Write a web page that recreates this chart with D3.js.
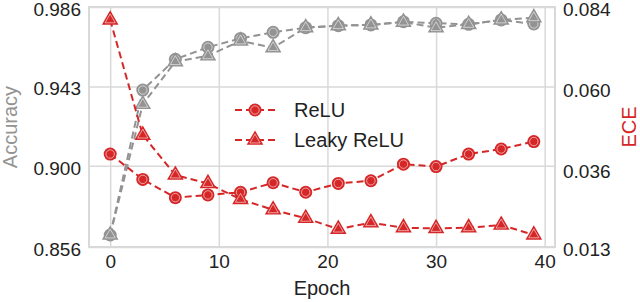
<!DOCTYPE html>
<html>
<head>
<meta charset="utf-8">
<script src="https://cdn.jsdelivr.net/npm/d3@7/dist/d3.min.js"></script>
<style>
  body { margin: 0; background: #fff; }
  text { font-family: "Liberation Sans", Arial, sans-serif; }
</style>
</head>
<body>
<script>
var epochs = [0, 3, 6, 9, 12, 15, 18, 21, 24, 27, 30, 33, 36, 39];
var accRelu  = [0.8625, 0.9410, 0.9577, 0.9642, 0.9690, 0.9723, 0.9748, 0.9759, 0.9763, 0.9780, 0.9772, 0.9766, 0.9790, 0.9768];
var accLeaky = [0.8625, 0.9333, 0.9564, 0.9596, 0.9676, 0.9640, 0.9748, 0.9759, 0.9763, 0.9778, 0.9748, 0.9766, 0.9790, 0.9802];
var eceRelu  = [0.0405, 0.0330, 0.0276, 0.0284, 0.0292, 0.0320, 0.0292, 0.0318, 0.0326, 0.0375, 0.0368, 0.0405, 0.0420, 0.0442];
var eceLeaky = [0.0802, 0.0461, 0.0343, 0.0318, 0.0271, 0.0240, 0.0215, 0.0183, 0.0202, 0.0187, 0.0185, 0.0187, 0.0195, 0.0166];
var xTicks = [0, 10, 20, 30, 40];
var accTicks = [0.856, 0.900, 0.943, 0.986];
var eceTicks = [0.013, 0.036, 0.060, 0.084];
var seriesNames = ["ReLU", "Leaky ReLU"];

var red = "#d62728", grey = "#939393", gridc = "#d9d9d9";

var svg = d3.select("body").append("svg")
    .attr("width", 640).attr("height", 302)
    .style("display", "block");

var margin = {top: 7, right: 85, bottom: 55, left: 89};
var width = 640 - margin.left - margin.right;
var height = 302 - margin.top - margin.bottom;
var g = svg.append("g").attr("transform", "translate(" + margin.left + "," + margin.top + ")");

var x = d3.scaleLinear().domain([-1.95, 40.95]).range([0, width]);
var yAcc = d3.scaleLinear().domain([0.856, 0.986]).range([height, 0]);
var yEce = d3.scaleLinear().domain([0.013, 0.084]).range([height, 0]);

// grid
g.append("g")
    .attr("transform", "translate(0," + height + ")")
    .call(d3.axisBottom(x).tickValues(xTicks).tickSize(-height).tickFormat(""))
    .call(function(a) { a.select(".domain").remove(); })
    .selectAll("line").attr("stroke", gridc).attr("stroke-width", 1.5);
g.append("g")
    .call(d3.axisLeft(yAcc).tickValues(accTicks).tickSize(-width).tickFormat(""))
    .call(function(a) { a.select(".domain").remove(); })
    .selectAll("line").attr("stroke", gridc).attr("stroke-width", 1.5);

// tick labels
var xa = g.append("g")
    .attr("transform", "translate(0," + height + ")")
    .call(d3.axisBottom(x).tickValues(xTicks).tickSize(0).tickPadding(8));
xa.select(".domain").remove();
xa.selectAll("text").style("font-size", "19px").attr("fill", "#222");

var ya = g.append("g")
    .call(d3.axisLeft(yAcc).tickValues(accTicks).tickSize(0).tickPadding(8).tickFormat(d3.format(".3f")));
ya.select(".domain").remove();
ya.selectAll("text").style("font-size", "19px").attr("fill", "#222").attr("dy", "0.45em");

var yb = g.append("g")
    .attr("transform", "translate(" + width + ",0)")
    .call(d3.axisRight(yEce).tickValues(eceTicks).tickSize(0).tickPadding(8).tickFormat(d3.format(".3f")));
yb.select(".domain").remove();
yb.selectAll("text").style("font-size", "19px").attr("fill", "#222").attr("dy", "0.45em");

// frame
g.append("rect")
    .attr("width", width).attr("height", height)
    .attr("fill", "none").attr("stroke", gridc).attr("stroke-width", 2);

function drawMarker(sel, shape, color) {
  if (shape === "circle") {
    sel.append("circle").attr("r", 6.5).attr("fill", color);
    sel.append("circle").attr("r", 4.2).attr("fill", "none")
        .attr("stroke", "rgba(255,255,255,0.55)").attr("stroke-width", 1);
  } else {
    sel.append("path").attr("d", d3.symbol(d3.symbolTriangle, 120)()).attr("fill", color);
    sel.append("path").attr("d", d3.symbol(d3.symbolTriangle, 45)()).attr("fill", "none")
        .attr("stroke", "rgba(255,255,255,0.55)").attr("stroke-width", 1);
  }
}

function drawSeries(vals, yScale, color, shape) {
  var pts = epochs.map(function(e, i) { return [e, vals[i]]; });
  var line = d3.line().x(function(d) { return x(d[0]); }).y(function(d) { return yScale(d[1]); });
  g.append("path").datum(pts)
      .attr("d", line)
      .attr("fill", "none").attr("stroke", color)
      .attr("stroke-width", 2).attr("stroke-dasharray", "7,4");
  g.selectAll(null).data(pts).enter().append("g")
      .attr("transform", function(d) { return "translate(" + x(d[0]) + "," + yScale(d[1]) + ")"; })
      .each(function() { drawMarker(d3.select(this), shape, color); });
}

drawSeries(accRelu, yAcc, grey, "circle");
drawSeries(accLeaky, yAcc, grey, "triangle");
drawSeries(eceRelu, yEce, red, "circle");
drawSeries(eceLeaky, yEce, red, "triangle");

// legend
var legend = svg.append("g").attr("transform", "translate(235,110)");
seriesNames.forEach(function(name, i) {
  var row = legend.append("g").attr("transform", "translate(0," + (i * 30) + ")");
  row.append("line").attr("x1", 0).attr("x2", 42).attr("y1", 0).attr("y2", 0)
      .attr("stroke", red).attr("stroke-width", 2).attr("stroke-dasharray", "7,4");
  var m = row.append("g").attr("transform", "translate(20,0)");
  drawMarker(m, i === 0 ? "circle" : "triangle", red);
  row.append("text").attr("x", 59).attr("y", 7)
      .style("font-size", "20px").attr("fill", "#222").text(name);
});

// axis labels
svg.append("text")
    .attr("x", margin.left + width / 2).attr("y", 295)
    .attr("text-anchor", "middle").style("font-size", "20px").attr("fill", "#222")
    .text("Epoch");
svg.append("text")
    .attr("transform", "translate(17," + (margin.top + height / 2) + ") rotate(-90)")
    .attr("text-anchor", "middle").style("font-size", "20px").attr("fill", grey)
    .text("Accuracy");
svg.append("text")
    .attr("transform", "translate(636," + (margin.top + height / 2) + ") rotate(-90)")
    .attr("text-anchor", "middle").style("font-size", "20px").attr("fill", red)
    .text("ECE");
</script>
</body>
</html>
